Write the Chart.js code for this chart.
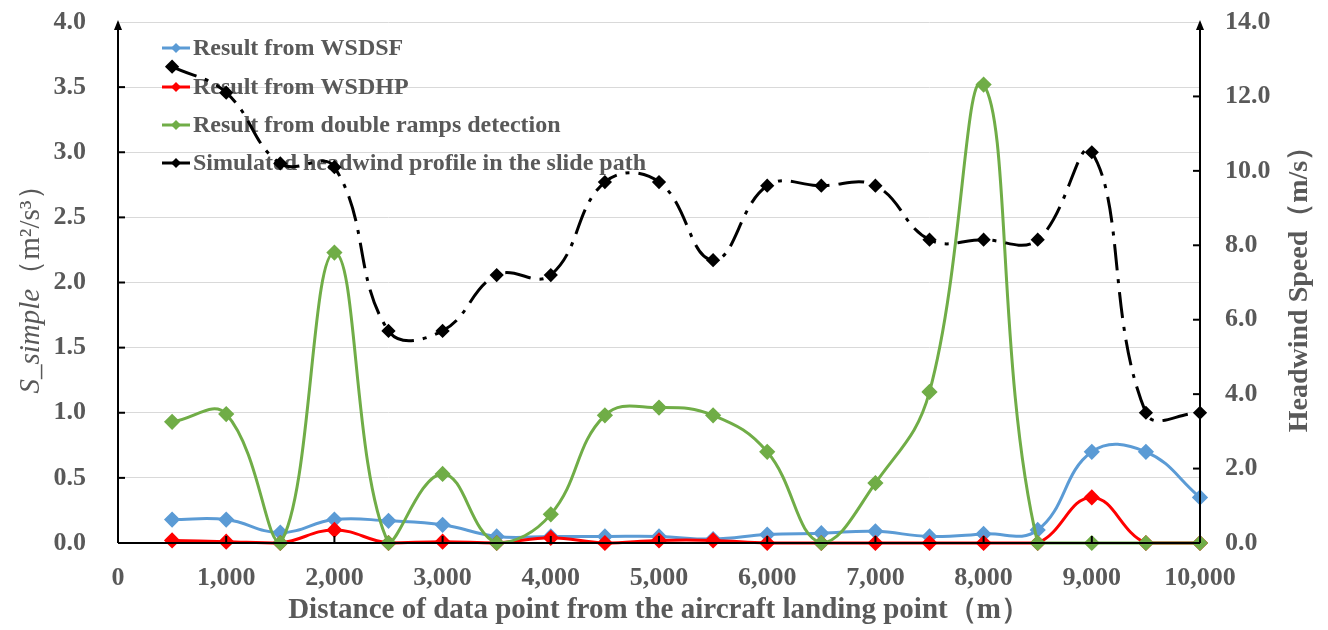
<!DOCTYPE html>
<html>
<head>
<meta charset="utf-8">
<script src="https://cdn.jsdelivr.net/npm/chart.js@4/dist/chart.umd.min.js"></script>
<style>
  html, body { margin: 0; padding: 0; background: #fff; }
  #wrap { width: 1328px; height: 630px; }
</style>
</head>
<body>
<div id="wrap"><canvas id="c" width="1328" height="630"></canvas></div>
<script>
// distancias (m)
const distancias = [500, 1000, 1500, 2000, 2500, 3000, 3500, 4000, 4500, 5000,
  5500, 6000, 6500, 7000, 7500, 8000, 8500, 9000, 9500, 10000];
// S_simple (m2/s3), eje izquierdo
const wsdsf = [0.18, 0.18, 0.08, 0.18, 0.17, 0.14, 0.05, 0.05, 0.05, 0.05,
  0.03, 0.065, 0.075, 0.09, 0.05, 0.07, 0.10, 0.70, 0.70, 0.35];
const wsdhp = [0.02, 0.01, 0.0, 0.10, 0.0, 0.01, 0.0, 0.04, 0.0, 0.02,
  0.02, 0.0, 0.0, 0.0, 0.0, 0.0, 0.0, 0.35, 0.0, 0.0];
const dobleRampa = [0.93, 0.99, 0.0, 2.23, 0.0, 0.53, 0.0, 0.22, 0.98, 1.04,
  0.98, 0.70, 0.0, 0.46, 1.16, 3.52, 0.0, 0.0, 0.0, 0.0];
// viento de frente (m/s), eje derecho
const vientoFrente = [12.8, 12.1, 10.2, 10.1, 5.7, 5.7, 7.2, 7.2, 9.7, 9.7,
  7.6, 9.6, 9.6, 9.6, 8.15, 8.15, 8.15, 10.5, 3.5, 3.5];

const etiquetas = ['Result from WSDSF', 'Result from WSDHP',
  'Result from double ramps detection', 'Simulated headwind profile in the slide path'];

const GRIS = '#595959';
const SERIF = '"Liberation Serif", "Times New Roman", serif';

function puntos(vals) {
  return distancias.map((d, i) => ({ x: d, y: vals[i] }));
}

// leyenda dentro del area del grafico
const leyendaPlugin = {
  id: 'leyenda',
  beforeDatasetsDraw(chart) {
    const ctx = chart.ctx;
    const filas = [48, 87, 125, 163];
    chart.data.datasets.forEach((ds, i) => {
      const y = filas[i];
      ctx.save();
      ctx.strokeStyle = ds.borderColor;
      ctx.lineWidth = 3;
      ctx.beginPath();
      ctx.moveTo(162, y);
      ctx.lineTo(190, y);
      ctx.stroke();
      ctx.fillStyle = ds.borderColor;
      ctx.beginPath();
      ctx.moveTo(176, y - 5);
      ctx.lineTo(181, y);
      ctx.lineTo(176, y + 5);
      ctx.lineTo(171, y);
      ctx.closePath();
      ctx.fill();
      ctx.fillStyle = GRIS;
      ctx.font = 'bold 24px ' + SERIF;
      ctx.textBaseline = 'middle';
      ctx.textAlign = 'left';
      ctx.fillText(ds.label, 193, y + 1);
      ctx.restore();
    });
  }
};

// ejes con flechas, marcas internas y titulos verticales
const ejesPlugin = {
  id: 'ejes',
  afterDraw(chart) {
    const ctx = chart.ctx;
    const a = chart.chartArea;
    const sx = chart.scales.x, yl = chart.scales.y, yr = chart.scales.y2;
    ctx.save();
    ctx.strokeStyle = '#000';
    ctx.fillStyle = '#000';
    ctx.lineWidth = 2;
    // eje x
    ctx.beginPath();
    ctx.moveTo(a.left, a.bottom);
    ctx.lineTo(a.right, a.bottom);
    ctx.stroke();
    // ejes verticales con flecha
    [a.left, a.right].forEach(x => {
      ctx.beginPath();
      ctx.moveTo(x, a.bottom);
      ctx.lineTo(x, a.top + 4);
      ctx.stroke();
      ctx.beginPath();
      ctx.moveTo(x, a.top - 2);
      ctx.lineTo(x + 4, a.top + 8);
      ctx.lineTo(x - 4, a.top + 8);
      ctx.closePath();
      ctx.fill();
    });
    // marcas
    yl.ticks.forEach(t => {
      if (t.value === 0 || t.value === 4) return;
      const y = yl.getPixelForValue(t.value);
      ctx.beginPath(); ctx.moveTo(a.left, y); ctx.lineTo(a.left + 7, y); ctx.stroke();
    });
    yr.ticks.forEach(t => {
      if (t.value === 0 || t.value === 14) return;
      const y = yr.getPixelForValue(t.value);
      ctx.beginPath(); ctx.moveTo(a.right, y); ctx.lineTo(a.right - 7, y); ctx.stroke();
    });
    sx.ticks.forEach(t => {
      if (t.value === 0 || t.value === 10000) return;
      const x = sx.getPixelForValue(t.value);
      ctx.beginPath(); ctx.moveTo(x, a.bottom); ctx.lineTo(x, a.bottom - 7); ctx.stroke();
    });
    ctx.restore();

    // titulo eje izquierdo (parte en cursiva)
    ctx.save();
    ctx.translate(31, (a.top + a.bottom) / 2);
    ctx.rotate(-Math.PI / 2);
    ctx.fillStyle = GRIS;
    ctx.textBaseline = 'middle';
    const f1 = 'italic 29px ' + SERIF, f2 = '29px ' + SERIF;
    const t1 = 'S_simple', t2 = '（m²/s³）';
    ctx.font = f1; const w1 = ctx.measureText(t1).width;
    ctx.font = f2; const w2 = ctx.measureText(t2).width;
    let x0 = -(w1 + w2) / 2;
    ctx.textAlign = 'left';
    ctx.font = f1; ctx.fillText(t1, x0, 0);
    ctx.font = f2; ctx.fillText(t2, x0 + w1, 0);
    ctx.restore();

    // titulo eje derecho
    ctx.save();
    ctx.translate(1300, (a.top + a.bottom) / 2);
    ctx.rotate(-Math.PI / 2);
    ctx.fillStyle = GRIS;
    ctx.textBaseline = 'middle';
    ctx.textAlign = 'center';
    ctx.font = 'bold 28px ' + SERIF;
    ctx.fillText('Headwind Speed（m/s）', 0, 0);
    ctx.restore();
  }
};

const fuenteTicks = { family: SERIF, size: 26, weight: 'bold' };

function sinRelleno(s) {
  s.paddingTop = 0; s.paddingBottom = 0; s.paddingLeft = 0; s.paddingRight = 0;
}

new Chart(document.getElementById('c'), {
  type: 'line',
  data: {
    datasets: [
      { label: etiquetas[0], data: puntos(wsdsf), yAxisID: 'y', borderColor: '#5B9BD5',
        backgroundColor: '#5B9BD5', borderWidth: 3, pointStyle: 'rectRot', pointRadius: 6, order: 4 },
      { label: etiquetas[1], data: puntos(wsdhp), yAxisID: 'y', borderColor: '#FF0000',
        backgroundColor: '#FF0000', borderWidth: 3, pointStyle: 'rectRot', pointRadius: 6, order: 3 },
      { label: etiquetas[2], data: puntos(dobleRampa), yAxisID: 'y', borderColor: '#70AD47',
        backgroundColor: '#70AD47', borderWidth: 3, pointStyle: 'rectRot', pointRadius: 6, order: 2 },
      { label: etiquetas[3], data: puntos(vientoFrente), yAxisID: 'y2', borderColor: '#000000',
        backgroundColor: '#000000', borderWidth: 3, borderDash: [26, 9, 4, 9],
        pointStyle: 'rectRot', pointRadius: 5, order: 1 }
    ]
  },
  options: {
    responsive: false,
    animation: false,
    devicePixelRatio: 1,
    layout: { padding: { top: 22, left: 0, right: 0, bottom: 0 } },
    elements: {
      line: { tension: 0.42, fill: false },
      point: { borderWidth: 0, hoverRadius: 6 }
    },
    datasets: { line: { clip: false } },
    plugins: {
      legend: { display: false },
      tooltip: { enabled: false }
    },
    scales: {
      x: {
        type: 'linear', min: 0, max: 10000,
        ticks: { stepSize: 1000, color: GRIS, font: fuenteTicks, padding: 20, maxRotation: 0 },
        grid: { display: false, drawTicks: false },
        border: { display: false },
        title: { display: true, text: 'Distance of data point from the aircraft landing point（m）',
          color: GRIS, font: { family: SERIF, size: 29, weight: 'bold' }, padding: { top: 0, bottom: 2 } },
        afterFit(s) { s.height = 87; sinRelleno(s); }
      },
      y: {
        position: 'left', min: 0, max: 4,
        ticks: { stepSize: 0.5, color: GRIS, font: fuenteTicks, padding: 32,
          callback: v => v.toFixed(1) },
        grid: { color: '#D9D9D9', lineWidth: 1, drawTicks: false },
        border: { display: false },
        afterFit(s) { s.width = 118; sinRelleno(s); }
      },
      y2: {
        position: 'right', min: 0, max: 14,
        ticks: { stepSize: 2, color: GRIS, font: fuenteTicks, padding: 25,
          callback: v => v.toFixed(1) },
        grid: { display: false, drawTicks: false },
        border: { display: false },
        afterFit(s) { s.width = 128; sinRelleno(s); }
      }
    }
  },
  plugins: [leyendaPlugin, ejesPlugin]
});
</script>
</body>
</html>
